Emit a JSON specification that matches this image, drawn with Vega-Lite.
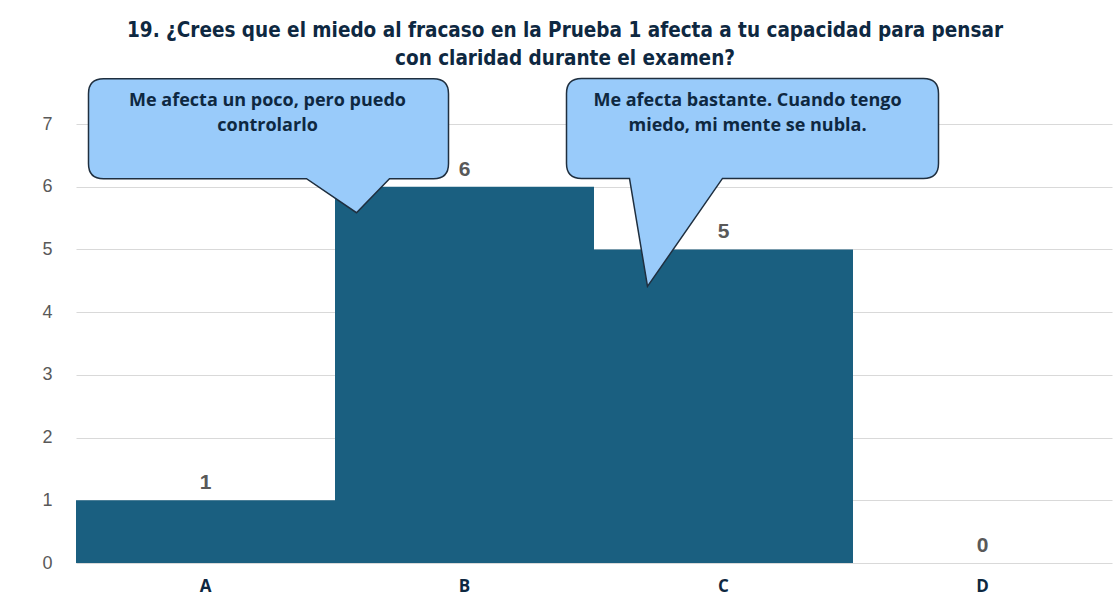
{
  "$schema": "https://vega.github.io/schema/vega-lite/v6.json",
  "autosize": {"type": "none"},
  "padding": {"left": 76, "top": 124, "right": 4, "bottom": 34},
  "width": 1036,
  "height": 439,
  "background": "white",
  "title": {
    "text": ["19. ¿Crees que el miedo al fracaso en la Prueba 1 afecta a tu capacidad para pensar", "con claridad durante el examen?"],
    "font": "Liberation Sans Narrow, DejaVu Sans Condensed, sans-serif",
    "fontSize": 20.5,
    "fontWeight": "bold",
    "color": "#0E2841",
    "lineHeight": 28,
    "anchor": "middle",
    "frame": "group",
    "dx": -29,
    "dy": 49,
    "offset": 55
  },
  "datasets": {
    "bars": [
      {"cat": "A", "value": 1},
      {"cat": "B", "value": 6},
      {"cat": "C", "value": 5},
      {"cat": "D", "value": 0}
    ],
    "notes": [
      {"cat": "B", "value": 6, "note": "Me afecta un poco, pero puedo\ncontrolarlo"},
      {"cat": "C", "value": 5, "note": "Me afecta bastante. Cuando tengo\nmiedo, mi mente se nubla."}
    ]
  },
  "config": {
    "view": {"stroke": null},
    "axis": {"domain": false, "ticks": false}
  },
  "layer": [
    {
      "data": {"name": "bars"},
      "mark": {"type": "bar", "color": "#1A5F80"},
      "encoding": {
        "x": {
          "field": "cat", "type": "nominal",
          "scale": {"paddingInner": 0, "paddingOuter": 0},
          "axis": {
            "title": null, "labelAngle": 0, "labelFont": "Open Sans", "labelFontSize": 17,
            "labelFontWeight": "bold", "labelColor": "#0E2841", "labelPadding": 15, "grid": false
          }
        },
        "y": {
          "field": "value", "type": "quantitative",
          "scale": {"domain": [0, 7], "nice": false},
          "axis": {
            "title": null, "values": [0, 1, 2, 3, 4, 5, 6, 7], "format": "d", "labelFont": "Liberation Sans",
            "labelFontSize": 18, "labelColor": "#595959", "labelPadding": 24,
            "grid": true, "gridColor": "#D9D9D9", "gridWidth": 1
          }
        }
      }
    },
    {
      "data": {"name": "bars"},
      "mark": {"type": "text", "font": "Liberation Sans", "fontSize": 21, "fontWeight": "bold", "color": "#595959", "baseline": "alphabetic", "dy": -11},
      "encoding": {
        "x": {"field": "cat", "type": "nominal"},
        "y": {"field": "value", "type": "quantitative"},
        "text": {"field": "value", "type": "quantitative"}
      }
    },
    {
      "data": {"name": "notes"},
      "transform": [{"filter": "datum.cat === 'B'"}],
      "mark": {
        "type": "point", "filled": true, "opacity": 1, "size": 4,
        "fill": "#99CBFA", "stroke": "#1F2F3F", "strokeWidth": 1.5,
        "shape": "M -361 -108 L -31 -108 Q -16 -108 -16 -93 L -16 -23 Q -16 -8 -31 -8 L -75 -8 L -108 26 L -158 -8 L -361 -8 Q -376 -8 -376 -23 L -376 -93 Q -376 -108 -361 -108 Z"
      },
      "encoding": {
        "x": {"field": "cat", "type": "nominal"},
        "y": {"field": "value", "type": "quantitative"}
      }
    },
    {
      "data": {"name": "notes"},
      "transform": [{"filter": "datum.cat === 'B'"}],
      "mark": {"type": "text", "font": "Open Sans", "fontSize": 18, "fontWeight": "bold", "color": "#0E2841", "lineBreak": "\n", "lineHeight": 25, "baseline": "alphabetic", "align": "center", "dx": -197, "dy": -81},
      "encoding": {
        "x": {"field": "cat", "type": "nominal"},
        "y": {"field": "value", "type": "quantitative"},
        "text": {"field": "note", "type": "nominal"}
      }
    },
    {
      "data": {"name": "notes"},
      "transform": [{"filter": "datum.cat === 'C'"}],
      "mark": {
        "type": "point", "filled": true, "opacity": 1, "size": 4,
        "fill": "#99CBFA", "stroke": "#1F2F3F", "strokeWidth": 1.5,
        "shape": "M -142 -171 L 200 -171 Q 215 -171 215 -156 L 215 -86 Q 215 -71 200 -71 L -1 -71 L -76 37 L -94 -71 L -142 -71 Q -157 -71 -157 -86 L -157 -156 Q -157 -171 -142 -171 Z"
      },
      "encoding": {
        "x": {"field": "cat", "type": "nominal"},
        "y": {"field": "value", "type": "quantitative"}
      }
    },
    {
      "data": {"name": "notes"},
      "transform": [{"filter": "datum.cat === 'C'"}],
      "mark": {"type": "text", "font": "Open Sans", "fontSize": 18, "fontWeight": "bold", "color": "#0E2841", "lineBreak": "\n", "lineHeight": 25, "baseline": "alphabetic", "align": "center", "dx": 24, "dy": -143},
      "encoding": {
        "x": {"field": "cat", "type": "nominal"},
        "y": {"field": "value", "type": "quantitative"},
        "text": {"field": "note", "type": "nominal"}
      }
    }
  ]
}
